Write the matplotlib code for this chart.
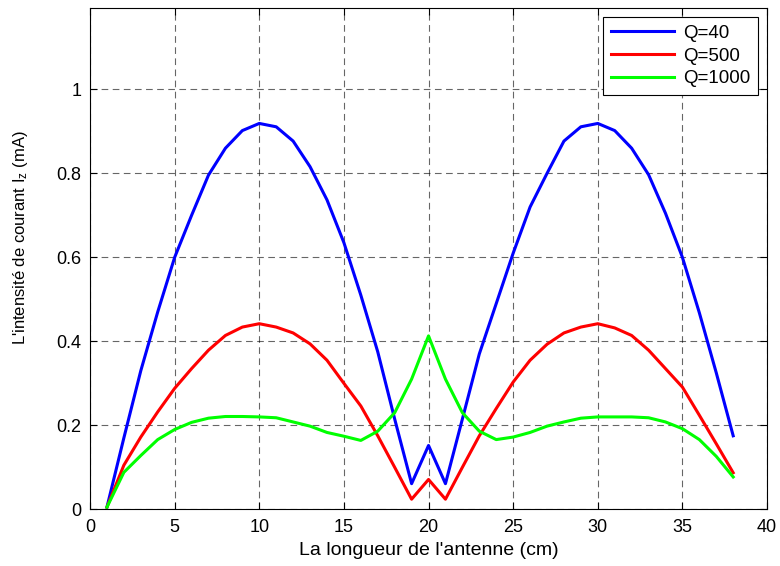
import numpy as np
import matplotlib.pyplot as plt

plt.rcParams['font.family'] = ['Liberation Sans', 'DejaVu Sans']
plt.rcParams['mathtext.default'] = 'regular'

x = np.arange(1, 39)

q40 = [0.005, 0.17, 0.33, 0.47, 0.60, 0.70, 0.796, 0.86, 0.902, 0.919,
       0.911, 0.877, 0.816, 0.737, 0.635, 0.51, 0.375, 0.215, 0.061, 0.152,
       0.061, 0.215, 0.37, 0.49, 0.61, 0.72, 0.80, 0.877, 0.911, 0.919,
       0.902, 0.86, 0.797, 0.705, 0.60, 0.468, 0.325, 0.175]
q500 = [0.005, 0.105, 0.172, 0.232, 0.288, 0.335, 0.379, 0.414, 0.434, 0.442,
        0.434, 0.42, 0.394, 0.355, 0.30, 0.246, 0.175, 0.10, 0.024, 0.071,
        0.024, 0.10, 0.175, 0.24, 0.303, 0.355, 0.393, 0.42, 0.434, 0.442,
        0.432, 0.414, 0.379, 0.335, 0.291, 0.224, 0.156, 0.087]
q1000 = [0.005, 0.088, 0.128, 0.166, 0.19, 0.207, 0.217, 0.221, 0.221, 0.22,
         0.218, 0.208, 0.198, 0.183, 0.174, 0.164, 0.186, 0.23, 0.31, 0.413,
         0.31, 0.23, 0.186, 0.166, 0.172, 0.183, 0.198, 0.208, 0.217, 0.22,
         0.22, 0.22, 0.218, 0.208, 0.192, 0.166, 0.126, 0.077]

fig = plt.figure(figsize=(7.8, 5.66), dpi=100)
ax = fig.add_axes([0.1154, 0.1002, 0.868, 0.8857])

ax.plot(x, q40, color='#0000ff', lw=2.2, label='Q=40')
ax.plot(x, q500, color='#ff0000', lw=2.2, label='Q=500')
ax.plot(x, q1000, color='#00ff00', lw=2.2, label='Q=1000')

ax.set_xlim(0, 40)
ax.set_ylim(0, 1.194)
ax.set_xticks(np.arange(0, 41, 5))
yt = [0, 0.2, 0.4, 0.6, 0.8, 1]
ax.set_yticks(yt)
ax.set_yticklabels(['0', '0.2', '0.4', '0.6', '0.8', '1'])
ax.tick_params(direction='in', top=True, right=True, labelsize=13, length=5)
ax.tick_params(axis='x', pad=7)
ax.tick_params(axis='y', pad=6)
ax.grid(True, color='k', linestyle=(0, (6, 4)), lw=0.8, alpha=0.6)

ax.set_xlabel("La longueur de l'antenne (cm)", fontsize=14, labelpad=4.5)
ax.set_ylabel("L'intensité de courant I$_z$ (mA)", fontsize=12)
ax.yaxis.set_label_coords(-0.088, 0.542)

leg = ax.legend(loc='upper right', fontsize=13.5, fancybox=False,
                framealpha=1, edgecolor='k', handlelength=3.4,
                handletextpad=0.45, borderpad=0.4, borderaxespad=0.5,
                labelspacing=0.3)
leg.get_frame().set_linewidth(0.8)

fig.savefig('out.png', dpi=100)
